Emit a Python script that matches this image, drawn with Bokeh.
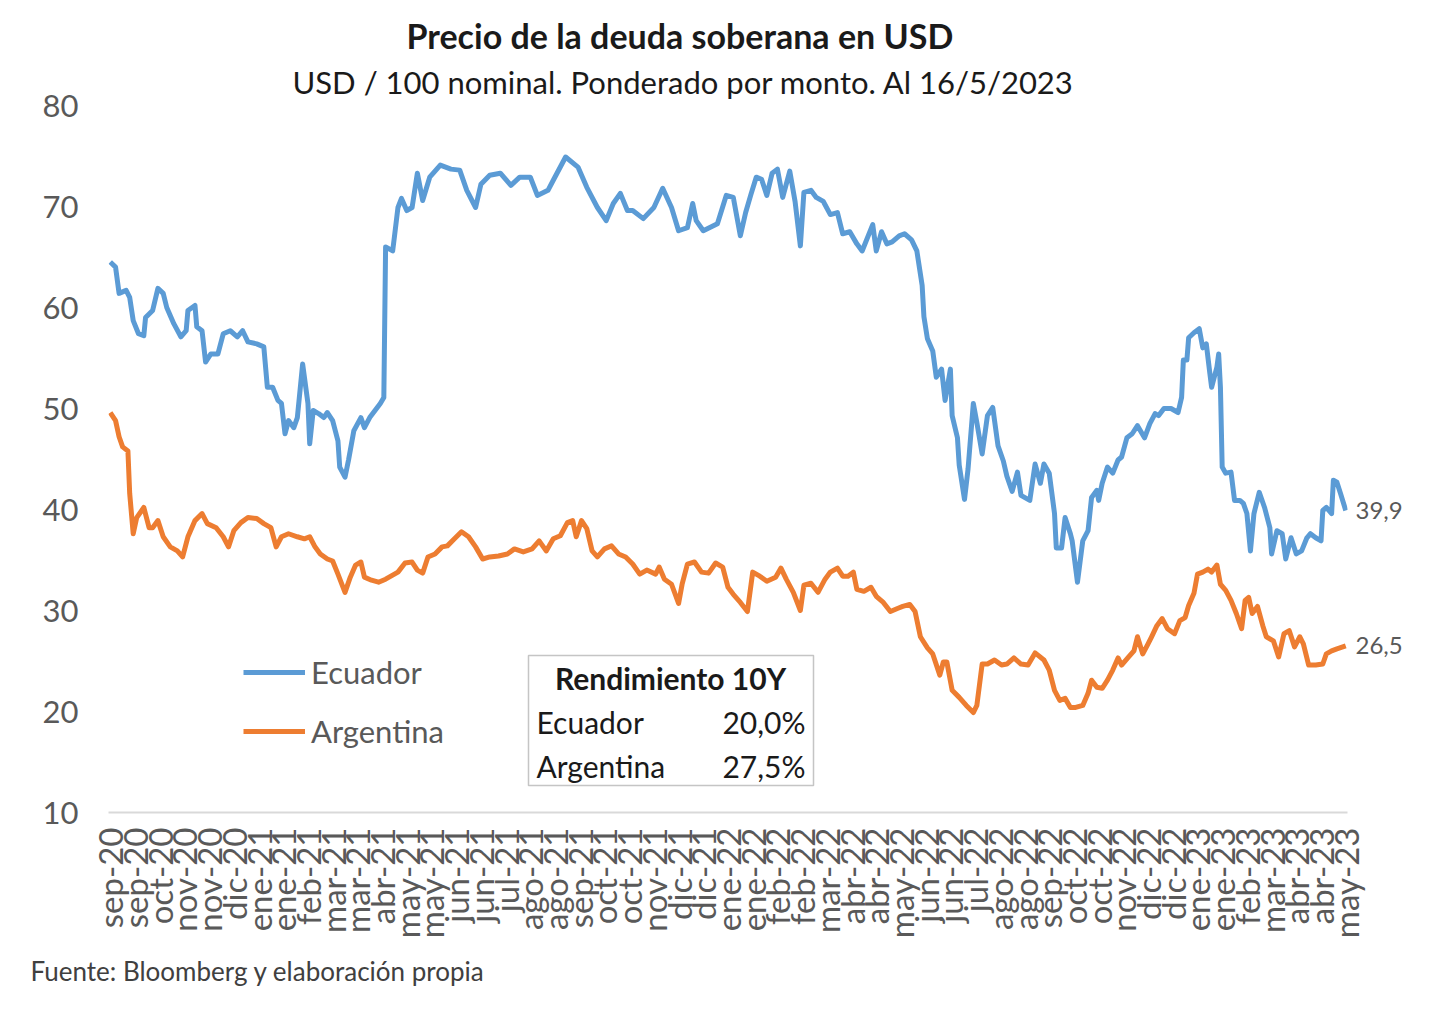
import math
from bokeh.plotting import figure
from bokeh.models import Range1d, FixedTicker, Label, BoxAnnotation, Legend, LegendItem, LinearAxis, Title
from bokeh.embed import file_html
from bokeh.resources import INLINE

# ---------------- data ----------------
meses = ["sep-20", "sep-20", "oct-20", "nov-20", "nov-20", "dic-20", "ene-21", "ene-21", "feb-21",
         "mar-21", "mar-21", "abr-21", "may-21", "may-21", "jun-21", "jun-21", "jul-21", "ago-21",
         "ago-21", "sep-21", "oct-21", "oct-21", "nov-21", "dic-21", "dic-21", "ene-22", "ene-22",
         "feb-22", "feb-22", "mar-22", "abr-22", "abr-22", "may-22", "jun-22", "jun-22", "jul-22",
         "ago-22", "ago-22", "sep-22", "oct-22", "oct-22", "nov-22", "dic-22", "dic-22", "ene-23",
         "ene-23", "feb-23", "mar-23", "abr-23", "abr-23", "may-23"]
ruedas_por_etiqueta = 14

ec_dias = [1, 4, 6, 10, 12, 14, 17, 20, 21, 25, 28, 31, 33, 37, 41, 44, 45, 49, 50, 53, 55, 58, 62, 65,
           69, 73, 76, 79, 84, 88, 90, 93, 96, 98, 100, 102, 105, 107, 110, 113, 114, 116, 119, 122,
           124, 127, 130, 131, 134, 136, 139, 143, 145, 148, 151, 154, 156, 157, 161, 162, 164, 166,
           169, 172, 175, 178, 182, 188, 194, 199, 203, 208, 211, 216, 222, 228, 233, 239, 243, 249,
           252, 259, 266, 271, 277, 282, 286, 290, 294, 297, 303, 309, 314, 319, 323, 328, 331, 333,
           337, 345, 350, 354, 358, 361, 364, 367, 370, 373, 376, 379, 382, 386, 389, 392, 394, 398,
           401, 405, 409, 413, 416, 420, 424, 427, 433, 435, 438, 441, 444, 448, 451, 455, 458, 461,
           462, 464, 467, 469, 472, 474, 477, 478, 481, 482, 485, 487, 490, 492, 495, 498, 501, 504,
           507, 509, 512, 515, 517, 522, 525, 528, 530, 533, 536, 537, 540, 542, 545, 546, 549, 552,
           555, 557, 560, 561, 563, 566, 569, 572, 574, 577, 580, 583, 587, 590, 593, 595, 598, 602,
           606, 608, 609, 611, 612, 615, 618, 620, 622, 624, 625, 628, 629, 630, 631, 633, 636, 638,
           641, 643, 645, 647, 649, 652, 655, 658, 659, 662, 665, 667, 670, 673, 676, 679, 681, 684,
           687, 688, 690, 693, 694, 696, 698, 701]
ec_valores = [64.5, 64.0, 61.4, 61.7, 61.0, 58.7, 57.4, 57.2, 59.0, 59.7, 61.9, 61.4, 60.0, 58.4, 57.1,
              57.7, 59.7, 60.2, 58.1, 57.7, 54.6, 55.4, 55.4, 57.4, 57.7, 57.1, 57.7, 56.6, 56.4, 56.1,
              52.1, 52.1, 50.8, 50.5, 47.5, 48.8, 48.1, 49.1, 54.4, 50.5, 46.5, 49.8, 49.5, 49.1, 49.6,
              48.8, 46.8, 44.2, 43.2, 44.9, 47.8, 49.1, 48.1, 49.1, 49.8, 50.5, 51.1, 66.0, 65.6, 67.0,
              69.9, 70.8, 69.6, 69.9, 73.3, 70.6, 72.9, 74.1, 73.7, 73.6, 71.6, 69.9, 72.2, 73.1, 73.3,
              72.1, 72.9, 72.9, 71.1, 71.6, 72.6, 74.9, 73.9, 71.9, 69.9, 68.6, 70.3, 71.3, 69.6, 69.6,
              68.8, 69.9, 71.8, 69.9, 67.6, 67.9, 70.3, 68.6, 67.6, 68.3, 71.1, 70.9, 67.1, 69.4, 71.2,
              72.9, 72.7, 71.1, 73.3, 73.7, 70.9, 73.5, 70.5, 66.1, 71.4, 71.6, 70.9, 70.5, 69.2, 69.4,
              67.3, 67.5, 66.3, 65.6, 68.2, 65.6, 67.5, 66.3, 66.5, 67.1, 67.3, 66.7, 65.6, 62.2, 59.1,
              56.9, 55.7, 53.1, 53.9, 50.8, 53.9, 49.3, 47.1, 44.4, 41.0, 44.0, 50.5, 48.6, 45.5, 49.3,
              50.1, 46.3, 44.8, 43.3, 41.8, 43.7, 41.4, 40.9, 44.5, 42.6, 44.5, 43.6, 39.6, 36.2, 36.2,
              39.2, 37.6, 36.9, 32.8, 36.9, 37.9, 41.2, 41.9, 40.9, 42.6, 44.2, 43.6, 44.9, 45.2, 47.1,
              47.5, 48.3, 47.1, 48.5, 49.5, 49.3, 50.0, 50.0, 49.6, 51.1, 54.8, 54.8, 57.0, 57.5, 57.9,
              56.0, 56.4, 53.5, 52.1, 54.1, 55.4, 52.1, 44.2, 43.6, 43.7, 40.9, 40.9, 40.6, 39.6, 35.9,
              39.6, 41.7, 40.2, 38.2, 35.6, 37.9, 37.6, 35.1, 37.2, 35.6, 35.9, 37.2, 37.6, 37.2, 36.9,
              39.9, 40.2, 39.6, 42.9, 42.7, 41.6, 39.9]

ar_dias = [1, 4, 6, 8, 11, 12, 14, 16, 20, 23, 25, 28, 31, 35, 39, 42, 45, 49, 53, 56, 61, 65, 68, 71,
           75, 79, 84, 88, 92, 95, 98, 102, 107, 111, 114, 117, 120, 124, 127, 130, 134, 137, 140,
           143, 145, 149, 153, 157, 161, 164, 168, 172, 175, 178, 181, 185, 189, 192, 196, 200, 204,
           208, 212, 216, 221, 226, 230, 235, 240, 244, 248, 252, 256, 260, 263, 265, 268, 271, 274,
           277, 281, 285, 289, 293, 297, 301, 305, 310, 312, 315, 319, 323, 325, 328, 332, 336, 340,
           344, 348, 351, 354, 358, 362, 365, 369, 373, 378, 381, 384, 388, 392, 394, 398, 402, 406,
           409, 413, 416, 419, 422, 424, 428, 432, 435, 439, 443, 447, 450, 454, 457, 460, 464, 467,
           471, 473, 475, 478, 482, 486, 490, 492, 495, 498, 502, 506, 509, 513, 517, 521, 525, 530,
           533, 536, 539, 542, 545, 548, 552, 555, 557, 560, 563, 566, 569, 572, 574, 578, 581, 583,
           586, 589, 591, 594, 597, 600, 604, 607, 610, 612, 615, 617, 620, 623, 625, 628, 630, 633,
           636, 639, 642, 644, 646, 648, 651, 654, 656, 660, 663, 666, 669, 672, 675, 677, 680, 684,
           688, 690, 693, 696, 701]
ar_valores = [49.6, 48.8, 47.2, 46.2, 45.8, 41.6, 37.6, 39.2, 40.2, 38.2, 38.2, 38.9, 37.3, 36.3, 35.9,
              35.3, 37.3, 38.9, 39.6, 38.6, 38.2, 37.3, 36.3, 37.9, 38.7, 39.2, 39.1, 38.6, 38.2, 36.3,
              37.3, 37.6, 37.3, 37.1, 37.3, 36.3, 35.6, 35.1, 34.9, 33.6, 31.8, 33.3, 34.5, 34.8, 33.3,
              33.0, 32.8, 33.1, 33.5, 33.8, 34.7, 34.8, 34.0, 33.7, 35.3, 35.6, 36.3, 36.4, 37.1, 37.8,
              37.3, 36.3, 35.1, 35.3, 35.4, 35.6, 36.1, 35.8, 36.1, 36.9, 35.9, 37.1, 37.4, 38.7, 38.9,
              37.3, 38.9, 38.1, 35.9, 35.3, 36.1, 36.4, 35.6, 35.3, 34.6, 33.6, 34.0, 33.6, 34.3, 33.1,
              32.6, 30.7, 32.6, 34.6, 34.8, 33.8, 33.7, 34.7, 34.3, 32.3, 31.6, 30.8, 29.9, 33.8, 33.4,
              32.9, 33.3, 34.2, 33.1, 31.8, 30.0, 32.5, 32.7, 31.8, 33.1, 33.8, 34.2, 33.4, 33.4, 33.8,
              32.1, 31.9, 32.3, 31.4, 30.8, 29.9, 30.2, 30.4, 30.6, 29.9, 27.4, 26.3, 25.7, 23.6, 24.9,
              24.9, 22.1, 21.4, 20.6, 19.9, 20.6, 24.7, 24.7, 25.1, 24.6, 24.7, 25.3, 24.7, 24.6, 25.8,
              25.1, 24.1, 22.1, 21.1, 21.3, 20.4, 20.4, 20.6, 21.8, 23.1, 22.4, 22.3, 23.1, 24.1, 25.3,
              24.6, 25.4, 26.0, 27.4, 25.7, 26.7, 27.4, 28.5, 29.2, 28.2, 27.7, 29.0, 29.3, 30.5, 31.7,
              33.6, 33.8, 34.1, 33.8, 34.5, 32.6, 32.0, 31.0, 29.7, 28.2, 31.0, 31.3, 29.7, 30.4, 28.5,
              27.4, 27.0, 25.4, 27.7, 28.0, 26.4, 27.4, 26.7, 24.6, 24.6, 24.7, 25.7, 26.0, 26.2, 26.5]

y_ticks = [10, 20, 30, 40, 50, 60, 70, 80]
series = ["Ecuador", "Argentina"]
tabla_titulo = "Rendimiento 10Y"
tabla_rendimientos = ["20,0%", "27,5%"]
titulo = "Precio de la deuda soberana en USD"
subtitulo = "USD / 100 nominal. Ponderado por monto. Al 16/5/2023"
fuente = "Fuente: Bloomberg y elaboración propia"

# ---------------- layout helpers ----------------
FONT = "Lato"
GRAY = "#595959"
DARK = "#1a1a1a"
BLUE = "#5B9BD5"
ORANGE = "#ED7D31"

W, H = 1424, 998
FL, FR, FT, FB = 108, 1347, 105, 812          # frame edges in pixels
X0, X1 = 0, 702
Y0, Y1 = 10, 80


def dx(px):
    return X0 + (px - FL) * (X1 - X0) / (FR - FL)


def dy(py):
    return Y1 - (py - FT) * (Y1 - Y0) / (FB - FT)


p = figure(width=W, height=H, output_backend="svg", toolbar_location=None, title=None,
           x_range=Range1d(X0, X1), y_range=Range1d(Y0, Y1),
           min_border_left=FL, min_border_right=W - FR, min_border_top=FT, min_border_bottom=H - FB)
p.outline_line_color = None
p.grid.visible = False
p.background_fill_color = "white"
p.border_fill_color = "white"

# left axis
p.yaxis.ticker = FixedTicker(ticks=y_ticks)
p.yaxis.axis_line_color = None
p.yaxis.major_tick_line_color = None
p.yaxis.minor_tick_line_color = None
p.yaxis.major_label_text_font = FONT
p.yaxis.major_label_text_font_size = "31px"
p.yaxis.major_label_text_color = GRAY
p.yaxis.major_label_standoff = 24

# bottom axis
x_ticks = [1 + ruedas_por_etiqueta * i for i in range(len(meses))]
p.xaxis.ticker = FixedTicker(ticks=x_ticks)
p.xaxis.major_label_overrides = {t: m for t, m in zip(x_ticks, meses)}
p.xaxis.axis_line_color = "#D9D9D9"
p.xaxis.axis_line_width = 2
p.xaxis.major_tick_line_color = None
p.xaxis.minor_tick_line_color = None
p.xaxis.major_label_orientation = math.pi / 2
p.xaxis.major_label_text_font = FONT
p.xaxis.major_label_text_font_size = "33px"
p.xaxis.major_label_text_color = GRAY
p.xaxis.major_label_standoff = 9

# right axis used for the end-of-series value labels
ultimos = [ec_valores[-1], ar_valores[-1]]
ax_r = LinearAxis(ticker=FixedTicker(ticks=ultimos),
                  major_label_overrides={v: f"{v:.1f}".replace(".", ",") for v in ultimos},
                  axis_line_color=None, major_tick_line_color=None, minor_tick_line_color=None,
                  major_label_text_font=FONT, major_label_text_font_size="24px",
                  major_label_text_color=GRAY, major_label_standoff=2)
p.add_layout(ax_r, "right")

# lines
r_ec = p.line(ec_dias, ec_valores, line_color=BLUE, line_width=5, line_join="round")
r_ar = p.line(ar_dias, ar_valores, line_color=ORANGE, line_width=5, line_join="round")

legend = Legend(items=[LegendItem(label=series[0], renderers=[r_ec]),
                       LegendItem(label=series[1], renderers=[r_ar])],
                location=(135, 62), orientation="vertical",
                padding=0, margin=0, spacing=21, glyph_width=62, glyph_height=38,
                label_height=38, label_standoff=6, border_line_color=None,
                background_fill_alpha=0, label_text_font=FONT, label_text_font_size="31px",
                label_text_color=GRAY, label_text_baseline="middle")
p.add_layout(legend)

# table box
p.add_layout(BoxAnnotation(left=dx(528), right=dx(813), top=dy(655), bottom=dy(785),
                           fill_color="white", fill_alpha=1.0, line_color="#404040", line_width=1.5))
p.add_layout(Label(x=dx(670), y=dy(677), text=tabla_titulo, text_align="center", text_baseline="middle",
                   text_font=FONT, text_font_style="bold", text_font_size="30px", text_color=DARK))
for i, (pais, rend) in enumerate(zip(series, tabla_rendimientos)):
    yy = dy(721 + 44 * i)
    p.add_layout(Label(x=dx(536), y=yy, text=pais, text_align="left", text_baseline="middle",
                       text_font=FONT, text_font_size="30px", text_color=DARK))
    p.add_layout(Label(x=dx(805), y=yy, text=rend, text_align="right", text_baseline="middle",
                       text_font=FONT, text_font_size="30px", text_color=DARK))

# titles (above) and source (below)
p.add_layout(Title(text=subtitulo, align="left", offset=184, text_font=FONT, text_font_size="31px",
                   text_font_style="normal", text_color=DARK, standoff=10), "above")
p.add_layout(Title(text=titulo, align="left", offset=298, text_font=FONT, text_font_size="34px",
                   text_font_style="bold", text_color=DARK, standoff=0), "above")
p.add_layout(Title(text=fuente, align="left", offset=30 - FL, text_font=FONT, text_font_size="26px",
                   text_font_style="normal", text_color="#404040", standoff=22), "below")

open("out.html", "w").write(file_html(p, INLINE))
